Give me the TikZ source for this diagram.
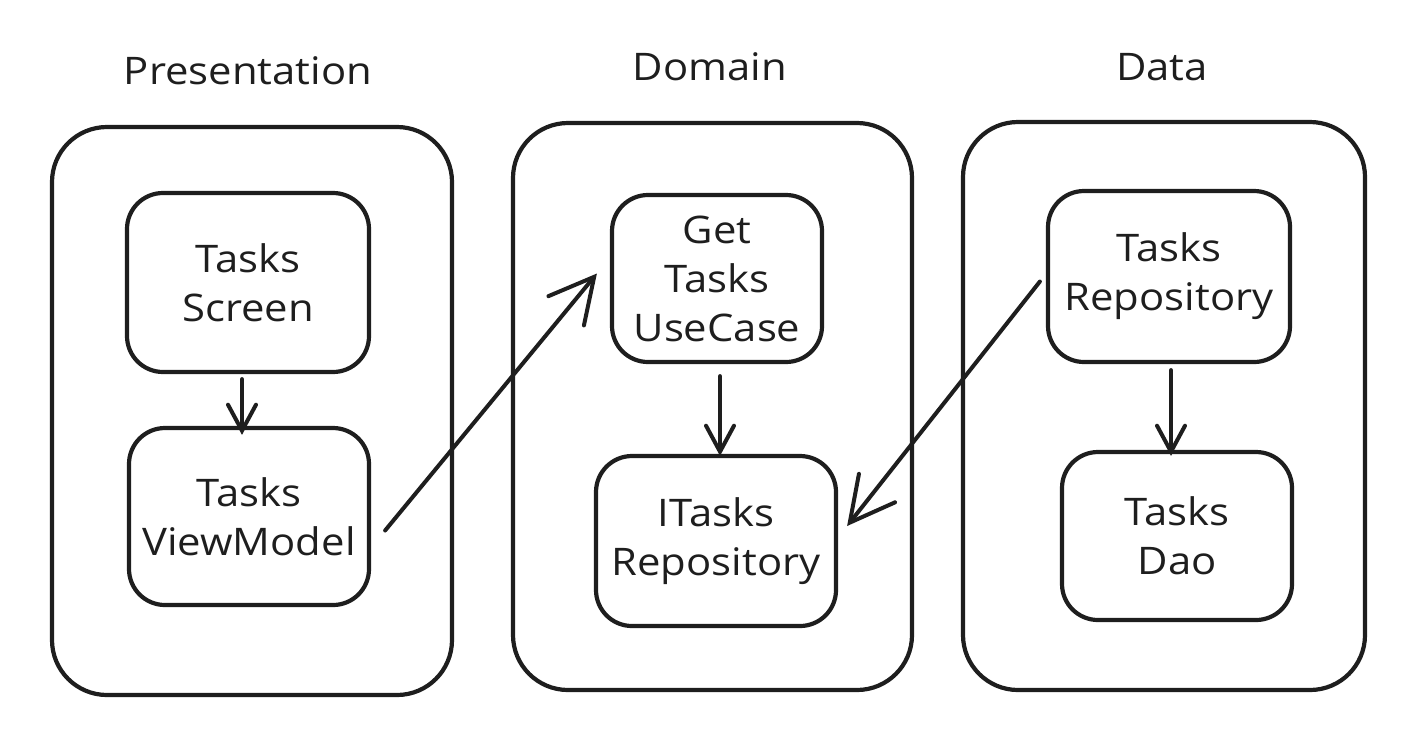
\documentclass[tikz,border=0pt]{standalone}
\usepackage{fontspec}
\setmainfont{Open Sans}[FakeStretch=1.1]
\definecolor{Ink}{HTML}{1E1E1E}
\usetikzlibrary{arrows.meta,positioning}
\tikzset{
	layer/.style={
		draw=Ink,line width=4.2pt,rounded corners=55pt,
		minimum width=#1},
	comp/.style={
		draw=Ink,line width=4.2pt,rounded corners=36pt,
		align=center,inner sep=0pt,font=\hand},
	title/.style={anchor=base,font=\hand},
	flow/.style={
		draw=Ink,line width=4pt,line cap=round,
		-{Straight Barb[length=26pt,width=28pt,line cap=round]}},
	bigflow/.style={flow,
		-{Straight Barb[length=44pt,width=46pt,line cap=round]}}
}
\def\hand{\fontsize{38}{49}\selectfont\color{Ink}}

\begin{document}
\begin{tikzpicture}[x=1pt,y=-1pt]
	\useasboundingbox (0,0) rectangle (1410,748);
	% the three layers
	\node[title] (tpres) at (248,84) {Presentation};
	\node[title] (tdom) at (710,80) {Domain};
	\node[title] (tdata) at (1162,80) {Data};
	\node[layer=400pt,minimum height=568pt] (pres) at (252,411) {};
	\node[layer=399pt,minimum height=567pt] (dom) at (712.5,406.5) {};
	\node[layer=402pt,minimum height=568pt] (data) at (1164,406) {};
	% components
	\node[comp,minimum width=242pt,minimum height=179pt] (screen) at (248,282.5) {Tasks\\Screen};
	\node[comp,minimum width=240pt,minimum height=177pt] (vm) at (249,516.5) {Tasks\\ViewModel};
	\node[comp,minimum width=210pt,minimum height=167pt] (usecase) at (717,278.5) {Get\\Tasks\\UseCase};
	\node[comp,minimum width=240pt,minimum height=170pt] (itasks) at (716,541) {ITasks\\Repository};
	\node[comp,minimum width=242pt,minimum height=171pt] (repo) at (1169,276.5) {Tasks\\Repository};
	\node[comp,minimum width=230pt,minimum height=168pt] (dao) at (1177,536) {Tasks\\Dao};
	% dependencies
	\draw[flow] ([xshift=-6pt,yshift=-5pt]screen.south) -- ([xshift=-7pt,yshift=-9pt]vm.north);
	\draw[bigflow] ([xshift=14pt,yshift=-14pt]vm.east) -- ([xshift=-13pt,yshift=5pt]usecase.west);
	\draw[flow] ([xshift=3pt,yshift=-12pt]usecase.south) -- ([xshift=4pt,yshift=-2pt]itasks.north);
	\draw[bigflow] ([xshift=-6pt,yshift=-5pt]repo.west) -- ([xshift=9pt,yshift=15pt]itasks.east);
	\draw[flow] ([xshift=2pt,yshift=-6pt]repo.south) -- ([xshift=-6pt,yshift=-6pt]dao.north);
\end{tikzpicture}
\end{document}
